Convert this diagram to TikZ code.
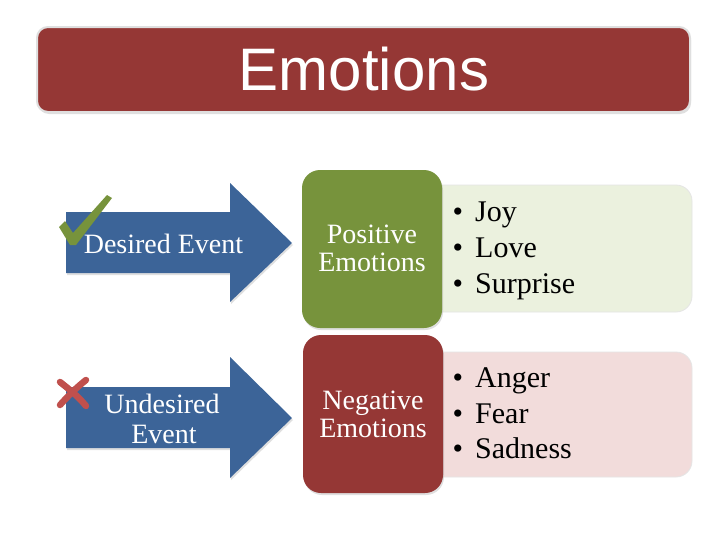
\documentclass[tikz,border=0pt]{standalone}
\usepackage{fontspec}
\setmainfont{Liberation Serif}
\newfontfamily\arialfont{Liberation Sans}
\usetikzlibrary{shadows}
\definecolor{titlered}{HTML}{953735}
\definecolor{arrowblue}{HTML}{3C6498}
\definecolor{okgreen}{HTML}{77933C}
\definecolor{lightgreen}{HTML}{EBF1DE}
\definecolor{lightpink}{HTML}{F2DCDB}
\definecolor{xred}{HTML}{C0504D}
\tikzset{
  softshadow/.style={drop shadow={opacity=0.25,shadow xshift=1pt,shadow yshift=-2pt}},
  whitetext/.style={text=white,inner sep=0pt,align=center},
  catlabel/.style={whitetext,font=\fontsize{28}{29}\selectfont},
  listitem/.style={anchor=base west,inner sep=0pt,text=black,font=\fontsize{30}{32}\selectfont},
}
\newcommand{\bul}{\llap{\textbullet\hspace{12pt}}}
\begin{document}
\begin{tikzpicture}[x=1pt,y=-1pt]
\useasboundingbox (0,0) rectangle (728,546);
\fill[white] (0,0) rectangle (728,546);
% title
\draw[fill=titlered,draw=gray!25,line width=2pt,rounded corners=11pt,softshadow] (37,27) rectangle (690,112);
\node[anchor=base,text=white,inner sep=0pt,font=\arialfont\fontsize{60}{60}\selectfont] (title) at (364,90) {Emotions};
% arrows
\fill[arrowblue,softshadow] (66,212) -- (230,212) -- (230,183) -- (292,243) -- (230,302) -- (230,273) -- (66,273) -- cycle;
\fill[arrowblue,softshadow] (66,387) -- (230,387) -- (230,357) -- (292,418) -- (230,478) -- (230,448) -- (66,448) -- cycle;
\node[anchor=base,whitetext,font=\fontsize{28}{29}\selectfont] (desired) at (163.5,253) {Desired Event};
\node[anchor=base,whitetext,font=\fontsize{28}{29}\selectfont] (undes1) at (162,413) {Undesired};
\node[anchor=base,whitetext,font=\fontsize{28}{29}\selectfont] (undes2) at (164,443) {Event};
% check mark
\fill[okgreen] (59,227) -- (65,221) -- (73,233) -- (107,195) -- (112,198) -- (76,245) -- (70,245) -- cycle;
% x mark
\draw[xred,line width=6.5pt,line cap=round] (60,382) .. controls (70,390) and (78,396) .. (86,406);
\draw[xred,line width=6.5pt,line cap=round] (86,380) .. controls (76,388) and (68,396) .. (60,405);
% positive
\draw[fill=lightgreen,draw=gray!20,line width=0.8pt,rounded corners=16pt] (420,185) rectangle (692,312);
\fill[okgreen,rounded corners=18pt,softshadow] (302,170) rectangle (442,328);
\node[anchor=base,catlabel] (pos1) at (372,243) {Positive};
\node[anchor=base,catlabel] (pos2) at (372,271) {Emotions};
\node[listitem] (joy) at (475,221) {\bul Joy};
\node[listitem] (love) at (475,257) {\bul Love};
\node[listitem] (surprise) at (475,293) {\bul Surprise};
% negative
\draw[fill=lightpink,draw=gray!20,line width=0.8pt,rounded corners=16pt] (420,352) rectangle (692,477);
\fill[titlered,rounded corners=18pt,softshadow] (303,335) rectangle (443,493);
\node[anchor=base,catlabel] (neg1) at (373,409) {Negative};
\node[anchor=base,catlabel] (neg2) at (373,437) {Emotions};
\node[listitem] (anger) at (475,387) {\bul Anger};
\node[listitem] (fear) at (475,423) {\bul Fear};
\node[listitem] (sadness) at (475,458) {\bul Sadness};
\end{tikzpicture}
\end{document}
